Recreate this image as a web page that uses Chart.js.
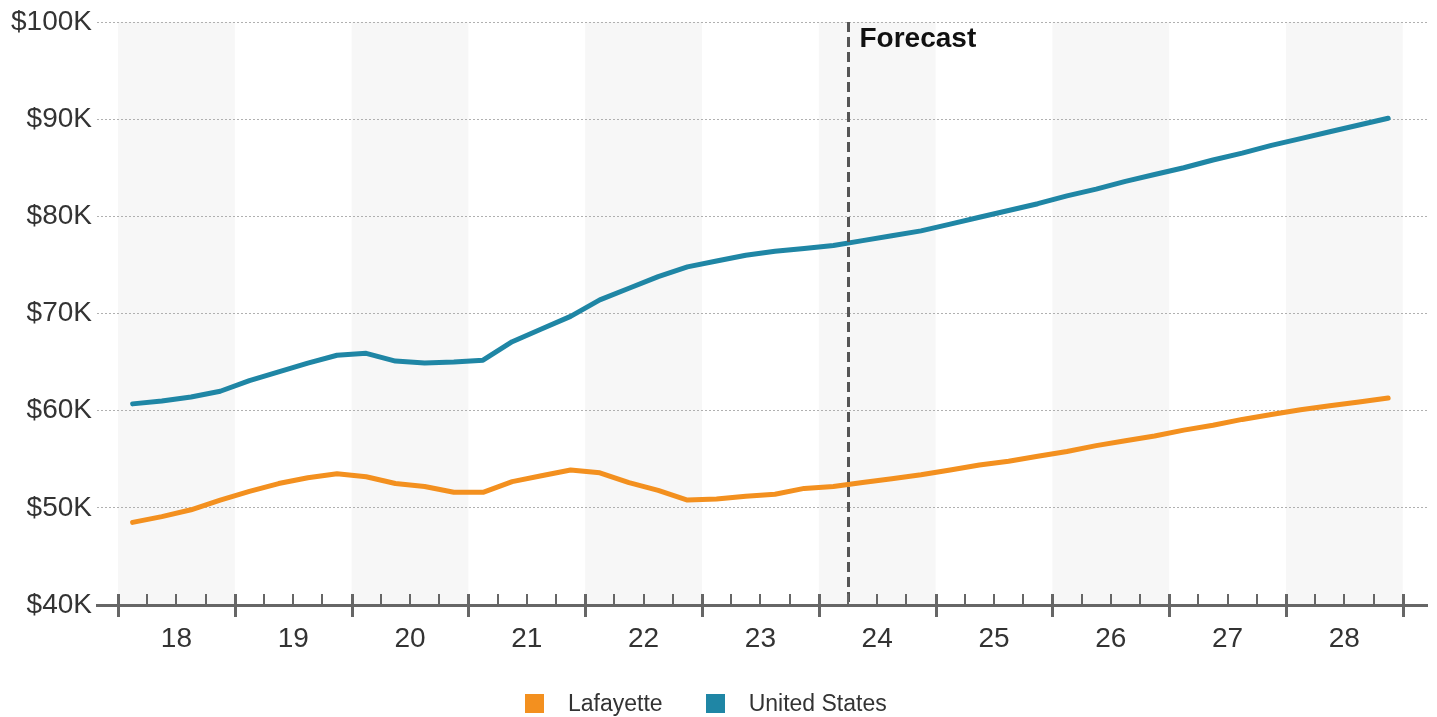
<!DOCTYPE html>
<html>
<head>
<meta charset="UTF-8">
<title>Lafayette vs United States</title>
<script src="https://cdn.jsdelivr.net/npm/chart.js@4.4.1/dist/chart.umd.min.js"></script>
<style>
    body{ margin:0; background:#fff; font-family:"Liberation Sans", Arial, sans-serif; }
    .wrap{ position:relative; width:1437px; height:717px; }
    .legend{ position:absolute; left:525px; top:691px; display:flex; align-items:center; font-size:23px; color:#333; line-height:24px; }
    .legend .item{ display:flex; align-items:center; margin-right:43px; }
    .legend .box{ display:inline-block; width:19px; height:19px; margin-right:24px; }
</style>
</head>
<body>
<div class="wrap">
    <canvas id="chart"></canvas>
    <div class="legend" id="legend"></div>
</div>
<script>
// years on the axis, 4 quarters each
const years = ['18','19','20','21','22','23','24','25','26','27','28'];

// quarterly values, $K
const lafayette = [
    48.5, 49.1, 49.8, 50.8, 51.7, 52.5, 53.1, 53.5, 53.2, 52.5, 52.2,
    51.6, 51.6, 52.7, 53.3, 53.9, 53.6, 52.6, 51.8, 50.8, 50.9, 51.2,
    51.4, 52.0, 52.2, 52.6, 53.0, 53.4, 53.9, 54.4, 54.8, 55.3, 55.8,
    56.4, 56.9, 57.4, 58.0, 58.5, 59.1, 59.6, 60.1, 60.5, 60.9, 61.3
];
const unitedStates = [
    60.7, 61.0, 61.4, 62.0, 63.1, 64.0, 64.9, 65.7, 65.9, 65.1, 64.9,
    65.0, 65.2, 67.1, 68.4, 69.7, 71.4, 72.6, 73.8, 74.8, 75.4, 76.0,
    76.4, 76.7, 77.0, 77.5, 78.0, 78.5, 79.2, 79.9, 80.6, 81.3, 82.1,
    82.8, 83.6, 84.3, 85.0, 85.8, 86.5, 87.3, 88.0, 88.7, 89.4, 90.1
];

const seriesNames = ['Lafayette', 'United States'];
const seriesColors = ['#F3901F', '#1F86A5'];
const forecastStart = 25; // quarter boundary where the forecast begins

Chart.defaults.font.family = '"Liberation Sans", Arial, sans-serif';
Chart.defaults.color = '#333';

const toPoints = arr => arr.map((v, i) => ({ x: i + 0.5, y: v }));

// shaded year bands, forecast marker and axis tick marks
const decor = {
    id: 'decor',
    beforeDraw(chart){
        const { ctx, chartArea: a, scales: { x } } = chart;
        ctx.save();
        ctx.fillStyle = '#f7f7f7';
        years.forEach((y, i) => {
            if (i % 2) return;
            const l = x.getPixelForValue(i * 4);
            const r = x.getPixelForValue(i * 4 + 4);
            ctx.fillRect(l, a.top, r - l, a.bottom - a.top);
        });
        ctx.restore();
    },
    afterDatasetsDraw(chart){
        const { ctx, chartArea: a, scales: { x } } = chart;
        ctx.save();
        const fx = Math.round(x.getPixelForValue(forecastStart)) + 0.5;
        ctx.strokeStyle = '#555';
        ctx.lineWidth = 3;
        ctx.setLineDash([10, 5]);
        ctx.beginPath();
        ctx.moveTo(fx, a.top);
        ctx.lineTo(fx, a.bottom);
        ctx.stroke();
        ctx.setLineDash([]);

        ctx.fillStyle = '#111';
        ctx.font = 'bold 28px "Liberation Sans", Arial, sans-serif';
        ctx.textBaseline = 'alphabetic';
        ctx.fillText('Forecast', fx + 11, a.top + 25);

        ctx.strokeStyle = '#666';
        for (let q = 0; q <= years.length * 4; q++) {
            const px = Math.round(x.getPixelForValue(q));
            const major = q % 4 === 0;
            ctx.lineWidth = major ? 3 : 2;
            ctx.beginPath();
            ctx.moveTo(px + (major ? 0.5 : 0), a.bottom - 11);
            ctx.lineTo(px + (major ? 0.5 : 0), a.bottom + (major ? 12 : 0));
            ctx.stroke();
        }
        ctx.restore();
    }
};

// legend
const legendEl = document.getElementById('legend');
seriesNames.forEach((name, i) => {
    const item = document.createElement('div');
    item.className = 'item';
    item.innerHTML = '<span class="box" style="background:' + seriesColors[i] + '"></span><span>' + name + '</span>';
    legendEl.appendChild(item);
});

new Chart(document.getElementById('chart'), {
    type: 'line',
    data: {
        datasets: [
            { label: seriesNames[0], data: toPoints(lafayette), borderColor: seriesColors[0], backgroundColor: seriesColors[0] },
            { label: seriesNames[1], data: toPoints(unitedStates), borderColor: seriesColors[1], backgroundColor: seriesColors[1] }
        ]
    },
    options: {
        responsive: true,
        maintainAspectRatio: false,
        animation: false,
        layout: { padding: { top: 22, right: 10, left: 0, bottom: 0 } },
        elements: {
            line: { borderWidth: 5, tension: 0, borderJoinStyle: 'round', borderCapStyle: 'round' },
            point: { radius: 0, hoverRadius: 0 }
        },
        plugins: { legend: { display: false }, tooltip: { enabled: false } },
        scales: {
            x: {
                type: 'linear',
                bounds: 'data',
                min: -0.72,
                max: 44.83,
                grid: { display: false },
                border: { display: true, color: '#666', width: 3 },
                afterBuildTicks: s => { s.ticks = years.map((y, i) => ({ value: i * 4 + 2 })); },
                afterFit: s => { s.height = 112; },
                ticks: {
                    autoSkip: false,
                    maxRotation: 0,
                    padding: 9,
                    color: '#333',
                    font: { size: 28 },
                    callback: v => years[Math.round((v - 2) / 4)]
                }
            },
            y: {
                min: 40,
                max: 100,
                afterFit: s => { s.width = 97; },
                border: { display: false, dash: [2, 2] },
                grid: { color: '#b0b0b0', lineWidth: 1, drawTicks: false },
                ticks: {
                    stepSize: 10,
                    padding: 5,
                    color: '#333',
                    font: { size: 28 },
                    callback: v => '$' + v + 'K'
                }
            }
        }
    },
    plugins: [decor]
});
</script>
</body>
</html>
